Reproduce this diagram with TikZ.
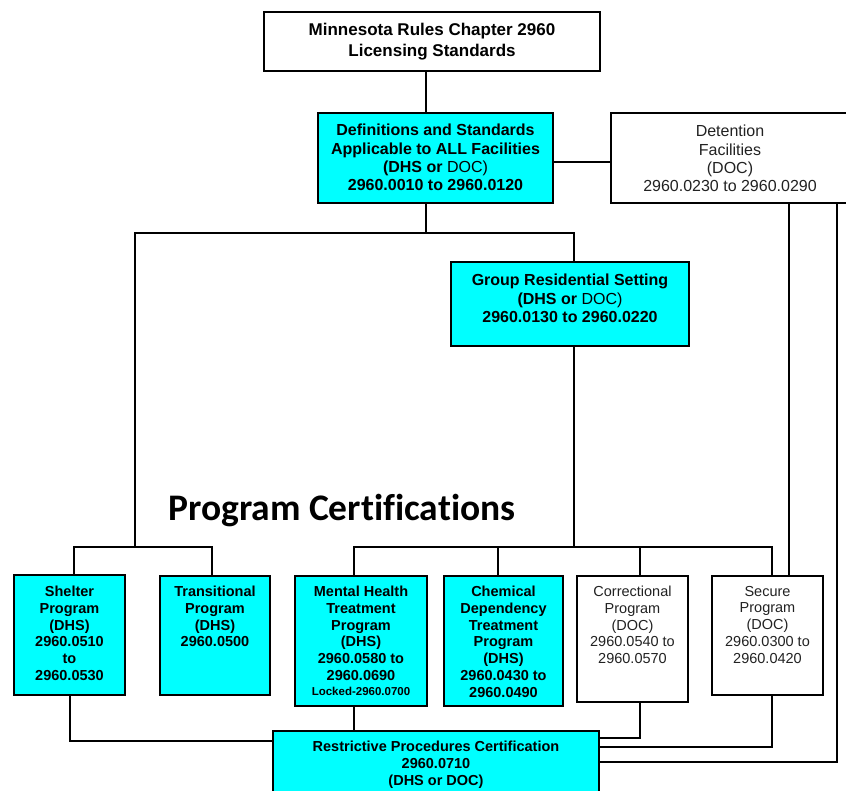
\documentclass[tikz,border=0pt]{standalone}
\usepackage{fontspec}
\setmainfont{Liberation Sans}
\newfontfamily\carl[Ligatures={NoCommon,NoRequired,NoContextual}]{Carlito}
\definecolor{boxcyan}{HTML}{00FFFF}
\definecolor{txtgray}{HTML}{222222}
\begin{document}
\begin{tikzpicture}[x=1pt,y=-1pt,
  box/.style={draw=black, line width=2.4pt, inner sep=0pt, outer sep=0pt, anchor=north west},
  cbox/.style={box, fill=boxcyan},
  wbox/.style={box, fill=white},
  conn/.style={line width=1.7pt, line join=miter, line cap=rect},
  lbl/.style={anchor=north, align=center, inner sep=0pt, font=\bfseries\fontsize{14.5}{16.8}\selectfont},
  lblr/.style={anchor=north, align=center, inner sep=0pt, text=txtgray, font=\fontsize{14.5}{16.8}\selectfont},
  lblbig/.style={anchor=north, align=center, inner sep=0pt, font=\bfseries\fontsize{16}{18.3}\selectfont}
]
\useasboundingbox (0,0) rectangle (846,790);
\fill[white] (0,0) rectangle (846,790);

% boxes
\node[wbox, minimum width=336pt, minimum height=59pt] (top) at (264,12) {};
\node[cbox, minimum width=235pt, minimum height=90pt] (def) at (318,113) {};
\node[wbox, minimum width=238pt, minimum height=90pt] (det) at (611,113) {};
\node[cbox, minimum width=238pt, minimum height=84pt] (grp) at (451,262) {};
\node[cbox, minimum width=111pt, minimum height=120pt] (shel) at (14,575) {};
\node[cbox, minimum width=110pt, minimum height=119pt] (trans) at (160,576) {};
\node[cbox, minimum width=132pt, minimum height=130pt] (mh) at (295,576) {};
\node[cbox, minimum width=119pt, minimum height=130pt] (cd) at (444,576) {};
\node[wbox, minimum width=111pt, minimum height=126pt] (corr) at (577,576) {};
\node[wbox, minimum width=111pt, minimum height=119pt] (sec) at (712,576) {};
\node[cbox, minimum width=326pt, minimum height=75pt] (rp) at (273,731) {};

% texts
\node[lblbig, font=\bfseries\fontsize{17}{21}\selectfont] (topT) at (432,22.9) {Minnesota Rules Chapter 2960\\Licensing Standards};
\node[lblbig] (defT) at (435.5,124.2) {Definitions and Standards\\Applicable to ALL Facilities\\(DHS or \textmd{DOC)}\\2960.0010 to 2960.0120};
\node[lblbig, font=\fontsize{16}{18.3}\selectfont, text=txtgray] (detT) at (730,125.2) {Detention\\Facilities\\(DOC)\\2960.0230 to 2960.0290};
\node[lblbig, font=\bfseries\fontsize{16}{18.5}\selectfont] (grpT) at (570,274.2) {Group Residential Setting\\(DHS or \textmd{DOC)}\\2960.0130 to 2960.0220};
\node[lbl] (shelT) at (69.5,585.8) {Shelter\\Program\\(DHS)\\2960.0510\\to\\2960.0530};
\node[lbl] (transT) at (215,585.8) {Transitional\\Program\\(DHS)\\2960.0500};
\node[lbl] (mhT) at (361,585.8) {Mental Health\\Treatment\\Program\\(DHS)\\2960.0580 to\\2960.0690\\[-2pt]{\fontsize{11.5}{13}\selectfont Locked-2960.0700}};
\node[lbl] (cdT) at (503.5,585.8) {Chemical\\Dependency\\Treatment\\Program\\(DHS)\\2960.0430 to\\2960.0490};
\node[lblr] (corrT) at (632.5,585.8) {Correctional\\Program\\(DOC)\\2960.0540 to\\2960.0570};
\node[lblr] (secT) at (767.5,585.8) {Secure\\Program\\(DOC)\\2960.0300 to\\2960.0420};
\node[lbl, font=\bfseries\fontsize{14.5}{17}\selectfont] (rpT) at (436,740.8) {Restrictive Procedures Certification\\2960.0710\\(DHS or DOC)};
\node[anchor=base, inner sep=0pt, font=\carl\bfseries\fontsize{37.5}{40}\selectfont] (pc) at (342,520) {Program Certifications};

% connectors
\draw[conn] (426,0 |- top.south) -- (426,0 |- def.north);
\draw[conn] (def.east |- 0,162) -- (det.west |- 0,162);
\draw[conn] (426,0 |- def.south) -- (426,233);
\draw[conn] (135,547) -- (135,233) -- (574,233) -- (574,0 |- grp.north);
\draw[conn] (574,0 |- grp.south) -- (574,547);
\draw[conn] (74,0 |- shel.north) -- (74,547) -- (212,547) -- (212,0 |- trans.north);
\draw[conn] (354,0 |- mh.north) -- (354,547) -- (772,547) -- (772,0 |- sec.north);
\draw[conn] (498,547) -- (498,0 |- cd.north);
\draw[conn] (640,547) -- (640,0 |- corr.north);
\draw[conn] (789,0 |- det.south) -- (789,0 |- sec.north);
\draw[conn] (837,0 |- det.south) -- (837,762) -- (rp.east |- 0,762);
\draw[conn] (70,0 |- shel.south) -- (70,741) -- (rp.west |- 0,741);
\draw[conn] (354,0 |- mh.south) -- (354,0 |- rp.north);
\draw[conn] (640,0 |- corr.south) -- (640,738) -- (rp.east |- 0,738);
\draw[conn] (772,0 |- sec.south) -- (772,747) -- (rp.east |- 0,747);
\end{tikzpicture}
\end{document}
